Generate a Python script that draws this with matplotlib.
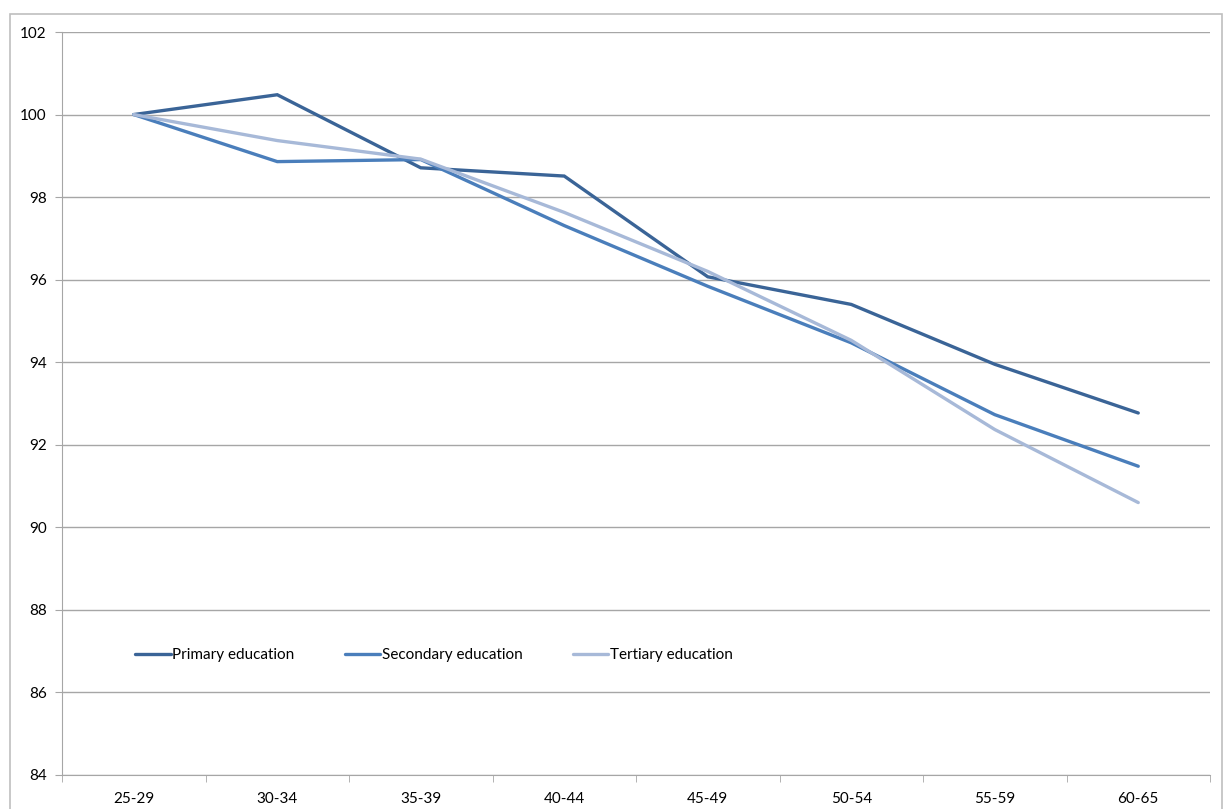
import numpy as np
import matplotlib.pyplot as plt
from matplotlib.patches import Rectangle

# age groups and indexed values (25-29 = 100)
age_groups = ['25-29', '30-34', '35-39', '40-44', '45-49', '50-54', '55-59', '60-65']
primary = [100.0, 100.48, 98.71, 98.51, 96.07, 95.40, 93.95, 92.77]
secondary = [100.0, 98.86, 98.91, 97.31, 95.84, 94.47, 92.73, 91.48]
tertiary = [100.0, 99.37, 98.92, 97.63, 96.20, 94.53, 92.37, 90.60]

series_names = ['Primary education', 'Secondary education', 'Tertiary education']
colors = ['#3A6497', '#4A7EBB', '#A7B9D8']

plt.rcParams['font.family'] = ['Lato', 'DejaVu Sans']

fig = plt.figure(figsize=(12.28, 8.09), dpi=100)
ax = fig.add_axes([62 / 1228, 1 - 775 / 809, 1148 / 1228, 743 / 809])

# outer chart border
fig.patches.append(Rectangle((10 / 1228, -0.1), 1212 / 1228, 1.1 - 14 / 809,
                             transform=fig.transFigure, fill=False,
                             edgecolor='#BFBFBF', linewidth=1.2))

x = np.arange(len(age_groups))
for vals, name, c in zip([primary, secondary, tertiary], series_names, colors):
    ax.plot(x, vals, color=c, lw=2.4, label=name, solid_capstyle='round',
            solid_joinstyle='miter')

ax.set_xlim(-0.5, len(age_groups) - 0.5)
ax.set_ylim(84, 102)
ax.set_yticks(np.arange(84, 103, 2))
ax.yaxis.grid(True, color='#A6A6A6', lw=1)
ax.set_axisbelow(True)

ax.set_xticks(x)
ax.set_xticklabels(age_groups)
ax.set_xticks(np.arange(-0.5, len(age_groups), 1), minor=True)
ax.tick_params(axis='x', which='major', length=0, pad=12, labelsize=11)
ax.tick_params(axis='x', which='minor', length=5, color='#A6A6A6')
ax.tick_params(axis='y', length=5, color='#A6A6A6', labelsize=11, pad=6)

for s in ['top', 'right']:
    ax.spines[s].set_visible(False)
for s in ['left', 'bottom']:
    ax.spines[s].set_color('#A6A6A6')

ax.legend(loc='lower left', bbox_to_anchor=(0.052, 0.133), ncol=3, frameon=False,
          handlelength=2.3, handletextpad=0.12, columnspacing=3.3, fontsize=11)

fig.savefig('out.png', dpi=100)
